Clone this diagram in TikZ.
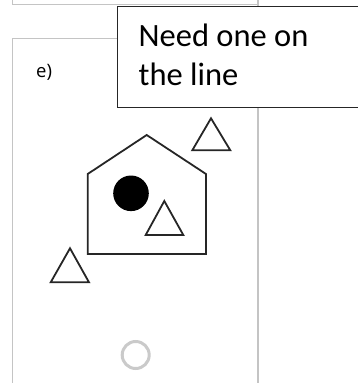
\documentclass[tikz,border=0pt]{standalone}
\usepackage{fontspec}
\setmainfont{Carlito}
\newfontfamily\labelfont{Open Sans}
\usepackage{tikz}
\usetikzlibrary{calc}
\definecolor{panelgray}{HTML}{C4C4C4}
\definecolor{ringgray}{HTML}{CACACA}
\definecolor{inkgray}{HTML}{262626}

\begin{document}
\begin{tikzpicture}[x=1pt, y=-1pt, line join=miter]
  \useasboundingbox (0,0) rectangle (357,383);
  \draw[panelgray, line width=1.2pt] (12.5,0) -- (12.5,4.5) -- (258,4.5);
  \draw[panelgray, line width=1.2pt] (258,0) -- (258,383);
  \draw[panelgray, line width=1.2pt] (12.5,383) -- (12.5,38.5) -- (117,38.5);
  \node[anchor=base west, inner sep=0pt, font=\labelfont\fontsize{18.5}{22}\selectfont] (part) at (36,77.5) {e)};

  % house
  \coordinate (roof) at (146.7,135);
  \draw[inkgray, line width=1.8pt] (87.7,254) -- (87.7,174) -- (roof) -- (206,174) -- (206,254) -- cycle;
  \fill (131,193.3) circle[radius=17.8pt];
  \draw[inkgray, line width=1.8pt] (164.3,201) -- (183.3,235) -- (145.7,235) -- cycle;

  \draw[inkgray, line width=1.8pt] (211,118.3) -- (230.3,150.3) -- (192.3,150.3) -- cycle;
  \draw[inkgray, line width=1.8pt] (70,248.3) -- (89,282.3) -- (50.7,282.3) -- cycle;

  \draw[ringgray, line width=3pt] (135.7,355) circle[radius=13.5pt];

  % note
  \draw[draw=inkgray, fill=white, line width=1pt] (117.3,6) rectangle (360,107.5);
  \node[anchor=base west, inner sep=0pt, font=\fontsize{32.5}{38}\selectfont] (need) at (138.5,46.7) {Need one on};
  \node[anchor=base west, inner sep=0pt, font=\fontsize{32.5}{38}\selectfont] (theline) at (138.5,85) {the line};
\end{tikzpicture}
\end{document}
